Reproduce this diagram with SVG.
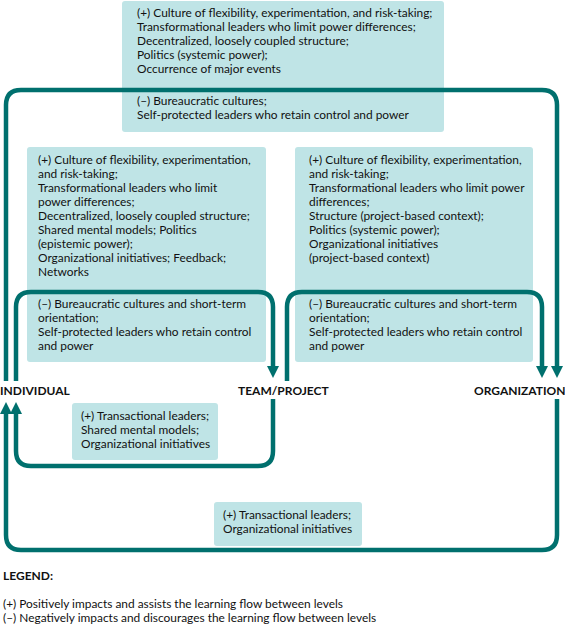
<svg xmlns="http://www.w3.org/2000/svg" width="565" height="625" viewBox="0 0 565 625">
<style>
.box{fill:#bfe4e6}
.t{font-family:Lato,"Noto Sans","Liberation Sans",sans-serif;font-size:11.9px;fill:#111}
.lbl{font-family:Lato,"Noto Sans","Liberation Sans",sans-serif;font-size:12px;font-weight:bold;fill:#111}
.c{fill:none;stroke:#00706e;stroke-width:4.5}
</style>
<defs>
<marker id="ah" viewBox="0 0 12 12" markerWidth="12" markerHeight="12" refX="2" refY="6" orient="auto" markerUnits="userSpaceOnUse">
<path d="M0,0 L12,6 L0,12 z" fill="#00706e"/>
</marker>
</defs>
<rect width="565" height="625" fill="#fff"/>
<g id="box-top">
<rect class="box" x="122" y="1" width="322" height="131" rx="3"/>
<text class="t" x="137" y="17">(+) Culture of flexibility, experimentation, and risk-taking;</text>
<text class="t" x="137" y="31">Transformational leaders who limit power differences;</text>
<text class="t" x="137" y="45">Decentralized, loosely coupled structure;</text>
<text class="t" x="137" y="59">Politics (systemic power);</text>
<text class="t" x="137" y="73">Occurrence of major events</text>
<text class="t" x="137" y="105">(–) Bureaucratic cultures;</text>
<text class="t" x="137" y="119">Self-protected leaders who retain control and power</text>
</g>
<g id="box-left">
<rect class="box" x="27" y="147" width="239" height="215" rx="3"/>
<text class="t" x="38" y="164">(+) Culture of flexibility, experimentation,</text>
<text class="t" x="38" y="178">and risk-taking;</text>
<text class="t" x="38" y="192">Transformational leaders who limit</text>
<text class="t" x="38" y="206">power differences;</text>
<text class="t" x="38" y="220">Decentralized, loosely coupled structure;</text>
<text class="t" x="38" y="234">Shared mental models; Politics</text>
<text class="t" x="38" y="248">(epistemic power);</text>
<text class="t" x="38" y="262">Organizational initiatives; Feedback;</text>
<text class="t" x="38" y="276">Networks</text>
<text class="t" x="38" y="308">(–) Bureaucratic cultures and short-term</text>
<text class="t" x="38" y="322">orientation;</text>
<text class="t" x="38" y="336">Self-protected leaders who retain control</text>
<text class="t" x="38" y="350">and power</text>
</g>
<g id="box-right">
<rect class="box" x="295" y="147" width="238" height="215" rx="3"/>
<text class="t" x="309" y="164">(+) Culture of flexibility, experimentation,</text>
<text class="t" x="309" y="178">and risk-taking;</text>
<text class="t" x="309" y="192">Transformational leaders who limit power</text>
<text class="t" x="309" y="206">differences;</text>
<text class="t" x="309" y="220">Structure (project-based context);</text>
<text class="t" x="309" y="234">Politics (systemic power);</text>
<text class="t" x="309" y="248">Organizational initiatives</text>
<text class="t" x="309" y="262">(project-based context)</text>
<text class="t" x="309" y="308">(–) Bureaucratic cultures and short-term</text>
<text class="t" x="309" y="322">orientation;</text>
<text class="t" x="309" y="336">Self-protected leaders who retain control</text>
<text class="t" x="309" y="350">and power</text>
</g>
<g id="box-team-individual">
<rect class="box" x="72" y="403" width="146" height="57" rx="3"/>
<text class="t" x="81" y="420">(+) Transactional leaders;</text>
<text class="t" x="81" y="434">Shared mental models;</text>
<text class="t" x="81" y="448">Organizational initiatives</text>
</g>
<g id="box-org-individual">
<rect class="box" x="214" y="502" width="148" height="44" rx="3"/>
<text class="t" x="223" y="519">(+) Transactional leaders;</text>
<text class="t" x="223" y="533">Organizational initiatives</text>
</g>
<g id="connectors">
<path class="c" marker-end="url(#ah)" d="M6,381 V105 Q6,90 21,90 H542 Q557,90 557,105 V368"/>
<path class="c" marker-end="url(#ah)" d="M16,381 V307 Q16,292 31,292 H258 Q273,292 273,307 V368"/>
<path class="c" marker-end="url(#ah)" d="M287,381 V307 Q287,292 302,292 H527 Q542,292 542,307 V368"/>
<path class="c" marker-end="url(#ah)" d="M273,399 V451 Q273,466 258,466 H31 Q16,466 16,451 V412"/>
<path class="c" marker-end="url(#ah)" d="M557,399 V535 Q557,550 542,550 H21 Q6,550 6,535 V412"/>
</g>
<g id="node-individual"><text class="lbl" x="0" y="395">INDIVIDUAL</text></g>
<g id="node-team"><text class="lbl" x="238" y="395">TEAM/PROJECT</text></g>
<g id="node-organization"><text class="lbl" x="474" y="395">ORGANIZATION</text></g>
<g id="legend">
<text class="lbl" x="3" y="580">LEGEND:</text>
<text class="t" x="3" y="608">(+) Positively impacts and assists the learning flow between levels</text>
<text class="t" x="3" y="622">(–) Negatively impacts and discourages the learning flow between levels</text>
</g>
</svg>
